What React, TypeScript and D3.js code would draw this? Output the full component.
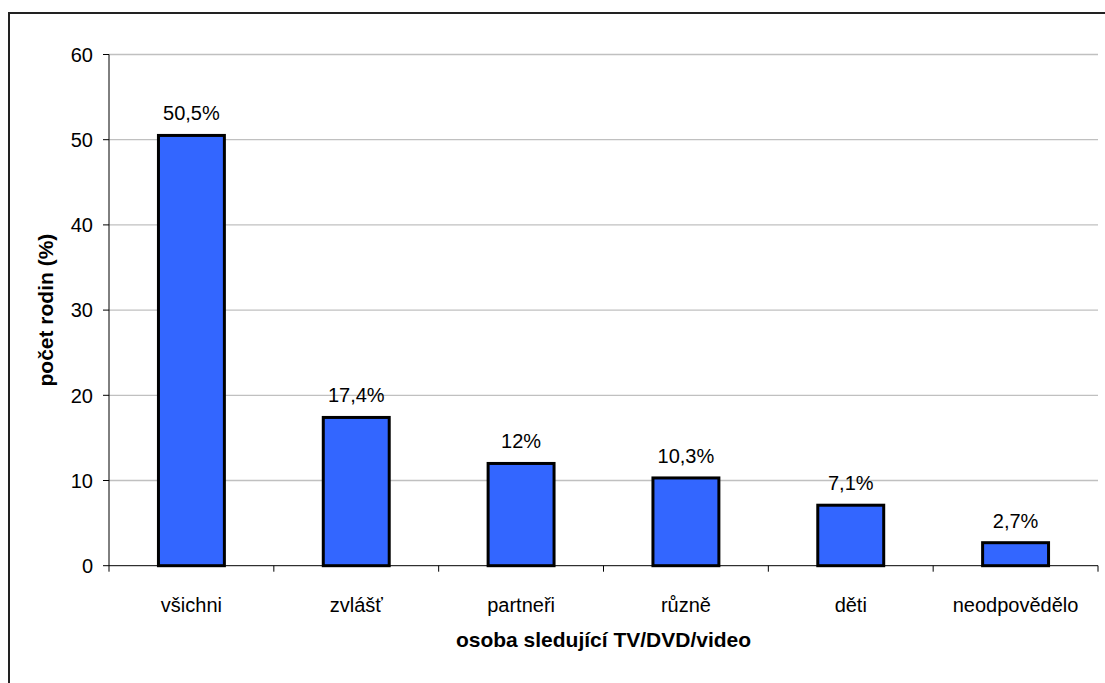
import React from "react";
import * as d3 from "d3";

const categories = ["všichni", "zvlášť", "partneři", "různě", "děti", "neodpovědělo"];
const values = [50.5, 17.4, 12, 10.3, 7.1, 2.7];
const valueLabels = ["50,5%", "17,4%", "12%", "10,3%", "7,1%", "2,7%"];
const yTicks = [0, 10, 20, 30, 40, 50, 60];

export default function App() {
  const W = 1105, H = 683;
  const left = 109, right = 1098, top = 54.5, bottom = 565.7;
  const x = d3.scaleBand<string>().domain(categories).range([left, right]).paddingInner(0.6).paddingOuter(0.3);
  const y = d3.scaleLinear().domain([0, 60]).range([bottom, top]);
  const step = (right - left) / categories.length;
  const font = "Arial, 'Liberation Sans', sans-serif";
  return (
    <svg width={W} height={H} style={{ position: "absolute", left: 0, top: 0 }} fontFamily={font}>
      <rect x={0} y={0} width={W} height={H} fill="#fff" />
      <path d={`M9,${H + 5} V13 H${W + 5}`} fill="none" stroke="#222" strokeWidth={2} />
      {yTicks.filter(t => t > 0).map(t => (
        <line key={t} x1={left} x2={right} y1={y(t)} y2={y(t)} stroke="#c0c0c0" strokeWidth={1.3} />
      ))}
      {categories.map((c, i) => (
        <rect key={c} x={x(c)} y={y(values[i])} width={x.bandwidth()} height={bottom - y(values[i])}
          fill="#3366ff" stroke="#000" strokeWidth={3} />
      ))}
      <line x1={left} x2={left} y1={top} y2={bottom} stroke="#000" strokeWidth={1} />
      <line x1={left} x2={right} y1={bottom} y2={bottom} stroke="#000" strokeWidth={1} />
      {yTicks.map(t => (
        <g key={t}>
          <line x1={left - 6} x2={left} y1={y(t)} y2={y(t)} stroke="#000" />
          <text x={93} y={y(t)} dy="0.36em" textAnchor="end" fontSize={20}>{t}</text>
        </g>
      ))}
      {d3.range(categories.length + 1).map(i => (
        <line key={i} x1={left + i * step} x2={left + i * step} y1={bottom} y2={bottom + 6} stroke="#000" />
      ))}
      {categories.map((c, i) => (
        <g key={c}>
          <text x={x(c)! + x.bandwidth() / 2} y={612} textAnchor="middle" fontSize={20}>{c}</text>
          <text x={x(c)! + x.bandwidth() / 2} y={y(values[i]) - 15} textAnchor="middle" fontSize={20}>{valueLabels[i]}</text>
        </g>
      ))}
      <text x={(left + right) / 2} y={647} textAnchor="middle" fontSize={21} fontWeight="bold">osoba sledující TV/DVD/video</text>
      <text transform={`translate(53,${(top + bottom) / 2}) rotate(-90)`} textAnchor="middle" fontSize={21} fontWeight="bold">počet rodin (%)</text>
    </svg>
  );
}
